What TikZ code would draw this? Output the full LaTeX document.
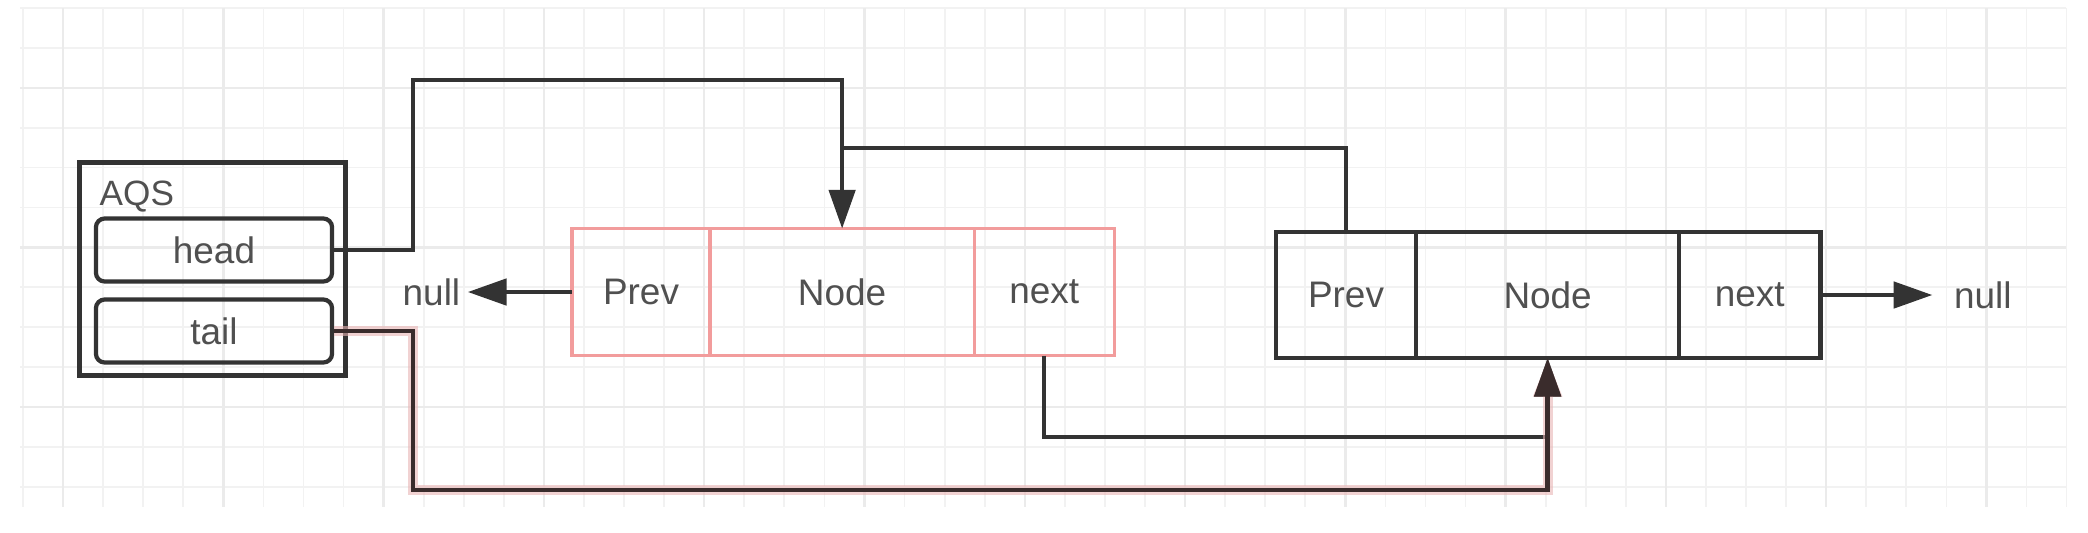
\documentclass[tikz,border=0pt]{standalone}
\usepackage{fontspec}
\setmainfont{Liberation Sans}
\usetikzlibrary{positioning,arrows.meta}
\definecolor{linegray}{HTML}{333333}
\definecolor{textgray}{HTML}{505050}
\definecolor{nodepink}{HTML}{F29C9C}
\definecolor{gridminor}{HTML}{F2F2F2}
\definecolor{gridmajor}{HTML}{EBEBEB}
\definecolor{taildark}{HTML}{3A2C2C}
\definecolor{tailglow}{HTML}{E8B4B4}
\tikzset{
  Cell/.style = {draw=linegray, line width=1.25pt, minimum height=1.26cm,
    inner sep=0pt, outer sep=0pt, text=textgray, font=\fontsize{10.5}{12}\selectfont},
  PinkCell/.style = {Cell, draw=nodepink, line width=0.9pt, minimum height=1.27cm},
  Field/.style = {draw=linegray, line width=1.2pt, rounded corners=2.5pt,
    minimum width=2.36cm, minimum height=0.63cm, inner sep=0pt,
    text=textgray, font=\fontsize{10.5}{12}\selectfont},
  Holder/.style = {draw=linegray, line width=1.25pt, minimum width=2.66cm,
    minimum height=2.13cm, inner sep=0pt},
  NullText/.style = {inner sep=0pt, text=textgray, font=\fontsize{10.5}{12}\selectfont},
  Link/.style = {draw=linegray, line width=1.05pt},
  TailLink/.style = {draw=taildark, line width=1.3pt,
    preaction={draw=tailglow, line width=2.8pt, opacity=0.6}},
  >={Triangle[length=11pt,width=7.5pt]}
}
\begin{document}
\begin{tikzpicture}[x=0.01cm, y=-0.01cm]
    \useasboundingbox (0,0) rectangle (2088,532);
    \fill[white] (0,0) rectangle (2088,532);
    \foreach \k in {0,...,51}
        \draw[gridminor, line width=0.5pt] ({23+40.07*\k},8) -- ({23+40.07*\k},507);
    \foreach \k in {0,...,12}
        \draw[gridminor, line width=0.5pt] (20,{8+39.9*\k}) -- (2066,{8+39.9*\k});
    \foreach \k in {1,5,...,49}
        \draw[gridmajor, line width=0.7pt] ({23+40.07*\k},8) -- ({23+40.07*\k},507);
    \foreach \k in {2,6,10}
        \draw[gridmajor, line width=0.7pt] (20,{8+39.9*\k}) -- (2066,{8+39.9*\k});

    \node[Holder] (aqs) at (212.5,269) {};
    \node[NullText, anchor=north west, font=\fontsize{10}{12}\selectfont] (aqslabel) at (99,180) {AQS};
    \node[Field] (head) at (214,250) {head};
    \node[Field] (tail) at (214,331) {tail};

    \node[PinkCell, minimum width=1.38cm] (pprev) at (641,292) {Prev};
    \node[PinkCell, minimum width=2.64cm, right=0pt of pprev] (pnode) {Node};
    \node[PinkCell, minimum width=1.40cm, right=0pt of pnode] (pnext) {next};

    \node[Cell, minimum width=1.40cm] (bprev) at (1346,295) {Prev};
    \node[Cell, minimum width=2.63cm, right=0pt of bprev] (bnode) {Node};
    \node[Cell, minimum width=1.41cm, right=0pt of bnode] (bnext) {next};

    \node[NullText, left=1.11cm of pprev.west] (nullL) {null};
    \node[NullText, right=1.33cm of bnext.east] (nullR) {null};

    \draw[Link,->] (pprev.west) -- ([xshift=2pt]nullL.east);
    \draw[Link,->] (bnext.east) -- ([xshift=-6pt]nullR.west);
    \draw[Link,->] (head.east) -| (413,80) -| (pnode.north);
    \draw[Link] (bprev.north) |- (pnode.north |- 0,148);
    \draw[Link,->] (pnext.south) |- (bnode.south |- 0,437) -- (bnode.south);
    \draw[TailLink,->] (tail.east) -| (413,490) -| (bnode.south);
\end{tikzpicture}
\end{document}
